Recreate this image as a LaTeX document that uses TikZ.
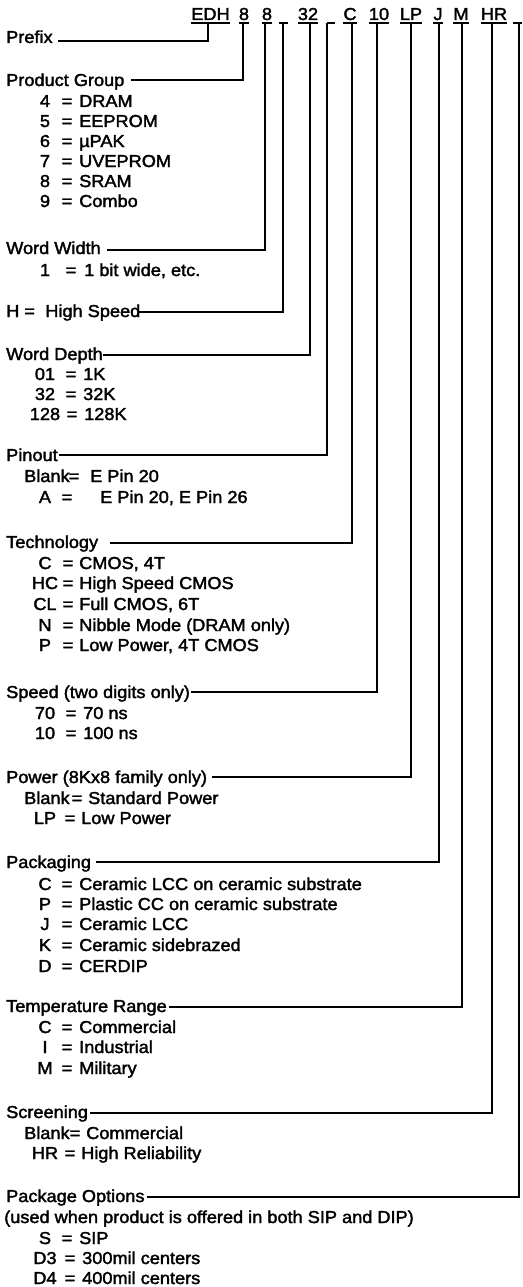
\documentclass[tikz,border=0pt]{standalone}
\usepackage{fontspec}
\setmainfont{Liberation Sans}[FakeStretch=1.05,FakeBold=2]
\begin{document}
\begin{tikzpicture}[x=1pt,y=-1pt,
  txt/.style={inner sep=0pt,font=\fontsize{17.3}{20}\selectfont},
  conn/.style={line width=1.3pt,line join=miter},
  ul/.style={line width=1.3pt}]
\useasboundingbox (0,0) rectangle (522,1287);
\newcommand\itm[6]{%
  \node[txt,anchor=base] (#1c) at (45,#2) {#3};
  \node[txt,anchor=base] (#1e) at (#4,#2) {=};
  \node[txt,anchor=base west] (#1v) at (#5,#2) {#6};}
\newcommand\itmB[6]{%
  \node[txt,anchor=base west] (#1c) at (24,#2) {#3};
  \node[txt,anchor=base] (#1e) at (#4,#2) {=};
  \node[txt,anchor=base west] (#1v) at (#5,#2) {#6};}
% header tokens
\node[txt,anchor=base] (tEDH) at (210.5,20) {EDH};
\node[txt,anchor=base] (tG) at (244,20) {8};
\node[txt,anchor=base] (tW) at (267,20) {8};
\node[txt,anchor=base,minimum width=9pt] (tH) at (283.5,20) {};
\node[txt,anchor=base] (tD) at (308,20) {32};
\node[txt,anchor=base,minimum width=8pt] (tP) at (331,20) {};
\node[txt,anchor=base] (tT) at (350,20) {C};
\node[txt,anchor=base] (tS) at (379,20) {10};
\node[txt,anchor=base] (tL) at (411,20) {LP};
\node[txt,anchor=base] (tJ) at (438,20) {J};
\node[txt,anchor=base] (tM) at (461,20) {M};
\node[txt,anchor=base] (tR) at (494,20) {HR};
\node[txt,anchor=base,minimum width=9pt] (tO) at (517.5,20) {};
\foreach \t in {tEDH,tG,tW,tH,tD,tP,tT,tS,tL,tJ,tM,tR,tO}
  \draw[ul] ([yshift=-3pt]\t.base west) -- ([yshift=-3pt]\t.base east);
% attachment points under the tokens
\coordinate (uEDH) at (208,23);
\coordinate (uG) at (243,23);
\coordinate (uW) at (265,23);
\coordinate (uH) at (283,23);
\coordinate (uD) at (310,23);
\coordinate (uP) at (327,23);
\coordinate (uT) at (352,23);
\coordinate (uS) at (377,23);
\coordinate (uL) at (411,23);
\coordinate (uJ) at (439,23);
\coordinate (uM) at (462,23);
\coordinate (uR) at (492,23);
\coordinate (uO) at (519,23);
% labels
\node[txt,anchor=base west] (lPre) at (6,43) {Prefix};
\node[txt,anchor=base west] (lGrp) at (6,86) {Product Group};
\itm{g4}{107}{4}{67}{79}{DRAM}
\itm{g5}{127}{5}{67}{79}{EEPROM}
\itm{g6}{147}{6}{67}{79}{µPAK}
\itm{g7}{167}{7}{67}{79}{UVEPROM}
\itm{g8}{187}{8}{67}{79}{SRAM}
\itm{g9}{207}{9}{67}{79}{Combo}
\node[txt,anchor=base west] (lWid) at (6,254) {Word Width};
\itm{w1}{276}{1}{71}{84}{1 bit wide, etc.}
\node[txt,anchor=base west] (lHs) at (6,317) {H =\hspace{0.6em}High Speed};
\node[txt,anchor=base west] (lDep) at (6,360) {Word Depth};
\itm{d1}{380}{01}{71}{83}{1K}
\itm{d2}{400}{32}{71}{83}{32K}
\itm{d3}{420}{128}{72}{84}{128K}
\node[txt,anchor=base west] (lPin) at (6,461) {Pinout};
\itmB{p1}{482}{Blank}{74}{90}{E Pin 20}
\itm{p2}{503}{A}{67}{100}{E Pin 20, E Pin 26}
\node[txt,anchor=base west] (lTec) at (6,548) {Technology};
\itm{t1}{569}{C}{68}{79}{CMOS, 4T}
\itm{t2}{589}{HC}{68}{79}{High Speed CMOS}
\itm{t3}{610}{CL}{68}{79}{Full CMOS, 6T}
\itm{t4}{631}{N}{68}{79}{Nibble Mode (DRAM only)}
\itm{t5}{651}{P}{68}{79}{Low Power, 4T CMOS}
\node[txt,anchor=base west] (lSpd) at (6,698) {Speed (two digits only)};
\itm{s1}{719}{70}{71}{83}{70 ns}
\itm{s2}{739}{10}{71}{83}{100 ns}
\node[txt,anchor=base west] (lPow) at (6,783) {Power (8Kx8 family only)};
\itmB{o1}{804}{Blank}{77}{88}{Standard Power}
\itm{o2}{824}{LP}{70}{81}{Low Power}
\node[txt,anchor=base west] (lPkg) at (6,868) {Packaging};
\itm{k1}{890}{C}{67}{79}{Ceramic LCC on ceramic substrate}
\itm{k2}{910}{P}{67}{79}{Plastic CC on ceramic substrate}
\itm{k3}{930}{J}{67}{79}{Ceramic LCC}
\itm{k4}{951}{K}{67}{79}{Ceramic sidebrazed}
\itm{k5}{972}{D}{67}{79}{CERDIP}
\node[txt,anchor=base west] (lTmp) at (6,1012) {Temperature Range};
\itm{m1}{1033}{C}{67}{79}{Commercial}
\itm{m2}{1053}{I}{67}{79}{Industrial}
\itm{m3}{1074}{M}{67}{79}{Military}
\node[txt,anchor=base west] (lScr) at (6,1118) {Screening};
\itmB{r1}{1139}{Blank}{75}{86}{Commercial}
\itm{r2}{1159}{HR}{70}{81}{High Reliability}
\node[txt,anchor=base west] (lOpt) at (6,1202) {Package Options};
\node[txt,anchor=base west] (lOpt2) at (4,1223) {(used when product is offered in both SIP and DIP)};
\itm{q1}{1244}{S}{67}{79}{SIP}
\itm{q2}{1264}{D3}{70}{82}{300mil centers}
\itm{q3}{1284}{D4}{70}{82}{400mil centers}
% connectors
\draw[conn] (lPre.base east) ++(5,-2) -| (uEDH);
\draw[conn] (lGrp.base east) ++(6,-6) -| (uG);
\draw[conn] (lWid.base east) ++(6,-4) -| (uW);
\draw[conn] (lHs.base east) ++(-1,-5) -| (uH);
\draw[conn] (lDep.base east) ++(0,-5) -| (uD);
\draw[conn] (lPin.base east) ++(1,-6) -| (uP);
\draw[conn] (lTec.base east) ++(12,-5) -| (uT);
\draw[conn] (lSpd.base east) ++(1,-6) -| (uS);
\draw[conn] (lPow.base east) ++(5,-6) -| (uL);
\draw[conn] (lPkg.base east) ++(5,-6) -| (uJ);
\draw[conn] (lTmp.base east) ++(2,-5) -| (uM);
\draw[conn] (lScr.base east) ++(2,-5) -| (uR);
\draw[conn] (lOpt.base east) ++(2,-5) -| (uO);
\end{tikzpicture}
\end{document}
